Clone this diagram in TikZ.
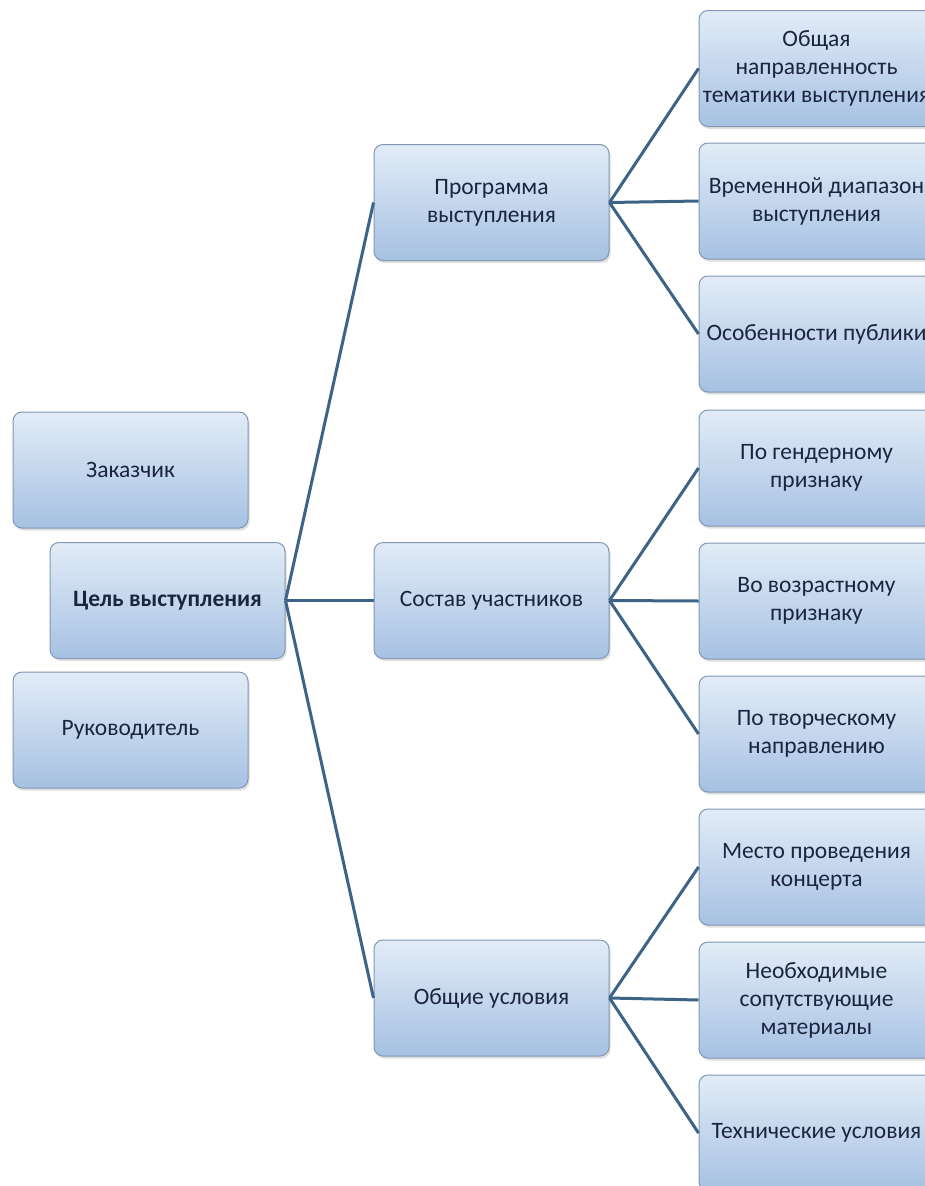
\documentclass[tikz,border=0pt]{standalone}
\usepackage{fontspec}
\setmainfont{Carlito}
\usetikzlibrary{shadows}
\definecolor{boxtop}{HTML}{E2ECF7}
\definecolor{boxbot}{HTML}{A6C1E2}
\definecolor{boxline}{HTML}{8197B3}
\definecolor{conn}{HTML}{3D6387}
\definecolor{txt}{HTML}{1B2540}
\begin{document}
\begin{tikzpicture}[x=1pt,y=-1pt,
  box/.style={draw=boxline, line width=1pt, rounded corners=9pt,
    top color=boxtop, bottom color=boxbot,
    minimum width=235pt, minimum height=116pt, align=center,
    inner sep=2pt, text=txt,
    font=\fontsize{23.5}{28}\selectfont,
    drop shadow={opacity=0.25, shadow xshift=1.5pt, shadow yshift=-2.5pt}},
  conn/.style={draw=conn, line width=3pt}]
\useasboundingbox (0,0) rectangle (925,1186);
\clip (0,0) rectangle (925,1186);
\fill[white] (0,0) rectangle (925,1186);

\node[box] (zak) at (130.5,470) {Заказчик};
\node[box, font=\fontsize{23.5}{28}\selectfont\bfseries] (cel) at (167.5,600.5) {Цель выступления};
\node[box] (ruk) at (130.5,730) {Руководитель};

\node[box] (prog) at (491.5,202.5) {Программа\\выступления};
\node[box] (sost) at (491.5,600.5) {Состав участников};
\node[box] (obsh) at (491.5,998) {Общие условия};

\node[box] (r1) at (816.5,68.5) {Общая\\направленность\\тематики выступления};
\node[box] (r2) at (816.5,201) {Временной диапазон\\выступления};
\node[box] (r3) at (816.5,334) {Особенности публики};
\node[box] (r4) at (816.5,468) {По гендерному\\признаку};
\node[box] (r5) at (816.5,601) {Во возрастному\\признаку};
\node[box] (r6) at (816.5,734) {По творческому\\направлению};
\node[box] (r7) at (816.5,867) {Место проведения\\концерта};
\node[box] (r8) at (816.5,1000) {Необходимые\\сопутствующие\\материалы};
\node[box] (r9) at (816.5,1133) {Технические условия};

\draw[conn] (cel.east) -- (prog.west);
\draw[conn] (cel.east) -- (sost.west);
\draw[conn] (cel.east) -- (obsh.west);
\foreach \m/\a/\b/\c in {prog/r1/r2/r3, sost/r4/r5/r6, obsh/r7/r8/r9}{
  \draw[conn] (\m.east) -- (\a.west);
  \draw[conn] (\m.east) -- (\b.west);
  \draw[conn] (\m.east) -- (\c.west);
}
\end{tikzpicture}
\end{document}
